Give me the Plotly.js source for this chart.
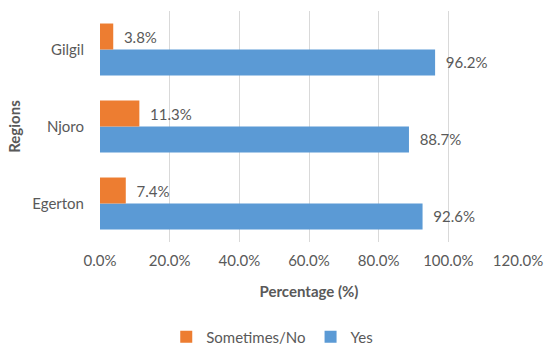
<!DOCTYPE html>
<html><head><meta charset="utf-8">
<script src="https://cdn.plot.ly/plotly-3.0.1.min.js"></script>
<style>html,body{margin:0;padding:0;background:#fff}#c{width:550px;height:350px}</style>
</head><body><div id="c"></div>
<script>
var regions = ['Egerton', 'Njoro', 'Gilgil'];
var yesValues = [92.6, 88.7, 96.2];
var noValues = [7.4, 11.3, 3.8];
var xTickVals = [0, 20, 40, 60, 80, 100, 120];
var xTickText = ['0.0%', '20.0%', '40.0%', '60.0%', '80.0%', '100.0%', '120.0%'];

var font = 'Lato, "Open Sans", sans-serif';
var fs = 15;
var traces = [
  {type:'bar', orientation:'h', name:'Yes', y:regions, x:yesValues,
   marker:{color:'#5B9AD5', line:{width:0}},
   text:yesValues.map(function(v){return '  ' + v.toFixed(1)+'%';}), textposition:'outside',
   textfont:{family:font, size:fs, color:'#595959'}, cliponaxis:false},
  {type:'bar', orientation:'h', name:'Sometimes/No', y:regions, x:noValues,
   marker:{color:'#ED7D31', line:{width:0}},
   text:noValues.map(function(v){return '  ' + v.toFixed(1)+'%';}), textposition:'outside',
   textfont:{family:font, size:fs, color:'#595959'}, cliponaxis:false}
];
var layout = {
  width:550, height:350,
  margin:{l:100, r:32, t:11, b:108, autoexpand:false},
  paper_bgcolor:'#fff', plot_bgcolor:'#fff',
  barmode:'group', bargap:0.325, bargroupgap:0,
  font:{family:font, size:fs, color:'#595959'},
  xaxis:{range:[0,120], tickvals:xTickVals, ticktext:xTickText, showgrid:true, automargin:false,
    gridcolor:'#D9D9D9', gridwidth:1, zeroline:false, showline:false, ticks:'', ticklabelstandoff:8,
    tickfont:{family:font, size:fs, color:'#595959'}, fixedrange:true,
    title:{text:'<b>Percentage (%)</b>', font:{family:font, size:fs, color:'#595959'}}},
  yaxis:{type:'category', categoryorder:'array', categoryarray:regions, showgrid:false, automargin:true,
    zeroline:false, showline:false, ticks:'', ticklabelstandoff:15,
    tickfont:{family:font, size:fs, color:'#595959'},
    title:{text:'<b>Regions</b>', standoff:8, font:{family:font, size:fs, color:'#595959'}}},
  legend:{orientation:'h', x:0.495, xref:'container', xanchor:'center', yref:'container', y:0.037, yanchor:'middle',
    traceorder:'reversed', itemwidth:30, font:{family:font, size:fs, color:'#595959'}},
  showlegend:true
};
Plotly.newPlot('c', traces, layout, {displayModeBar:false, staticPlot:true});
</script></body></html>
